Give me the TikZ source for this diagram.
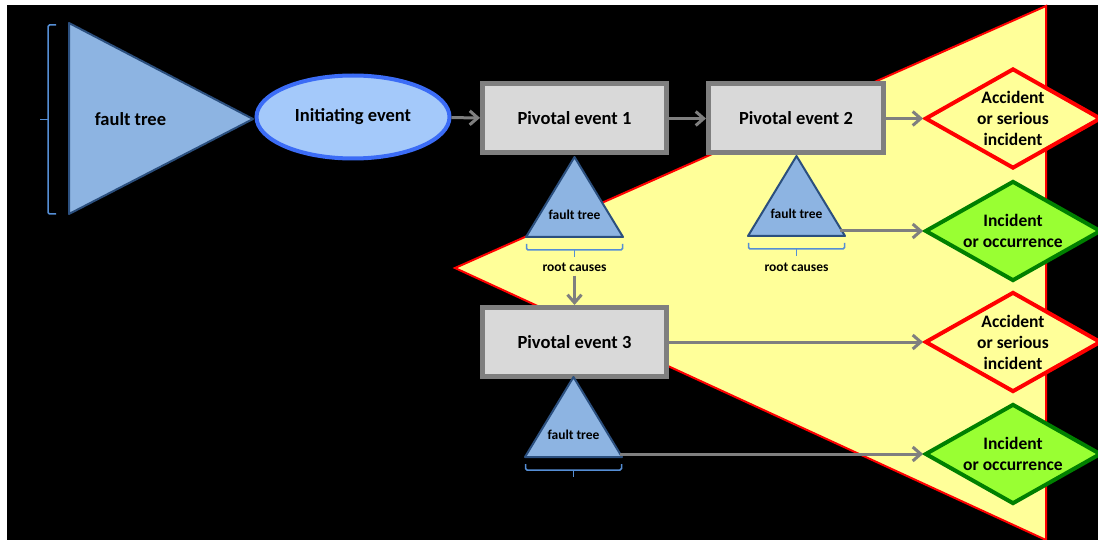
\documentclass[tikz,border=0pt]{standalone}
\usepackage{fontspec}
\setmainfont{Carlito}
\usepackage{tikz}
\usetikzlibrary{shapes,shapes.geometric,arrows.meta,positioning,calc}
\usepackage{xcolor}
\definecolor{treefill}{HTML}{8DB4E2}
\definecolor{treeline}{HTML}{2B4F7E}
\definecolor{bracecol}{HTML}{558ED5}
\definecolor{initfill}{HTML}{A4C9FA}
\definecolor{initline}{HTML}{3B6CF6}
\definecolor{boxfill}{HTML}{D9D9D9}
\definecolor{boxline}{HTML}{7F7F7F}
\definecolor{wedgefill}{HTML}{FFFF99}
\definecolor{okfill}{HTML}{99FF33}
\definecolor{okline}{HTML}{008000}

\begin{document}
\begin{tikzpicture}[
    x=1pt, y=-1pt,
    pivot/.style={rectangle, draw=boxline, fill=boxfill, line width=5pt, minimum height=69pt, inner sep=0, font=\fontsize{18.5}{22}\selectfont\bfseries},
    initiating/.style={ellipse, draw=initline, fill=initfill, line width=4pt, minimum width=193pt, minimum height=83pt, inner sep=0, font=\fontsize{18.5}{22}\selectfont\bfseries},
    accident/.style={diamond, draw=red, fill=wedgefill, line width=4pt, minimum width=176pt, minimum height=100pt, aspect=1.75, inner sep=0, align=center, font=\fontsize{17.5}{21}\selectfont\bfseries},
    occurrence/.style={accident, draw=okline, fill=okfill},
    tree/.style={draw=treeline, fill=treefill, line width=2pt, line join=round},
    causes/.style={draw=bracecol, line width=1.5pt, rounded corners=1.5pt},
    small/.style={inner sep=0, font=\fontsize{13.5}{16}\selectfont\bfseries},
    flow/.style={draw=boxline, line width=3pt, -{Straight Barb[length=8pt,width=14pt]}}
]
    \useasboundingbox (0,0) rectangle (1098,540);
    \fill[white] (0,0) rectangle (1098,540);
    \fill[black] (7,5) rectangle (1098,540);

    % Consequence wedge
    \draw[red, line width=2pt, fill=wedgefill] (455,268) -- (1046,6) -- (1046,540) -- cycle;

    % Left fault tree and its bracket
    \draw[tree] (69,23) -- (253,119) -- (69,214) -- cycle;
    \node[inner sep=0, font=\fontsize{18.5}{22}\selectfont\bfseries] (ft0) at (130.5,119) {fault tree};
    \draw[causes] (56,25) -- (48,25) -- (48,214) -- (56,214);
    \draw[causes] (48,119.5) -- (40,119.5);

    % Event chain
    \node[initiating] (init) at (353,117) {Initiating event};
    \node[pivot, minimum width=184pt] (pe1) at (574.5,118.5) {Pivotal event 1};
    \node[pivot, minimum width=175pt] (pe2) at (796,118.5) {Pivotal event 2};
    \node[pivot, minimum width=184pt] (pe3) at (574.5,342) {Pivotal event 3};

    % Outcomes
    \node[accident] (d1) at (1013,118.5) {Accident\\or serious\\incident};
    \node[occurrence] (d2) at (1013,231) {Incident\\or occurrence};
    \node[accident] (d3) at (1013,342) {Accident\\or serious\\incident};
    \node[occurrence] (d4) at (1013,454) {Incident\\or occurrence};

    % Fault trees below the pivotal events
    \foreach \n/\cx/\ty in {1/574.5/157, 2/796.5/156, 3/573.5/377} {
        \draw[tree] (\cx,\ty) -- (\cx+48.5,\ty+80) -- (\cx-48.5,\ty+80) -- cycle;
        \node[small] (ft\n) at (\cx,\ty+58) {fault tree};
        \draw[causes] (\cx-48,\ty+87) -- (\cx-48,\ty+93) -- (\cx+48,\ty+93) -- (\cx+48,\ty+87);
        \draw[causes] (\cx,\ty+93) -- (\cx,\ty+100);
    }
    \node[small] (rc1) at (574.5,267) {root causes};
    \node[small] (rc2) at (796.5,267) {root causes};
    \coordinate (ft2e) at (840,231);
    \coordinate (ft3e) at (620,454);

    % Connectors
    \draw[flow] (init) -- (pe1);
    \draw[flow] (pe1) -- (pe2);
    \draw[flow] (pe2) -- (d1);
    \draw[flow, shorten <=4pt] (rc1) -- (pe3);
    \draw[flow] (pe3) -- (d3);
    \draw[flow] (ft2e) -- (d2.west);
    \draw[flow] (ft3e) -- (d4.west);
\end{tikzpicture}
\end{document}
